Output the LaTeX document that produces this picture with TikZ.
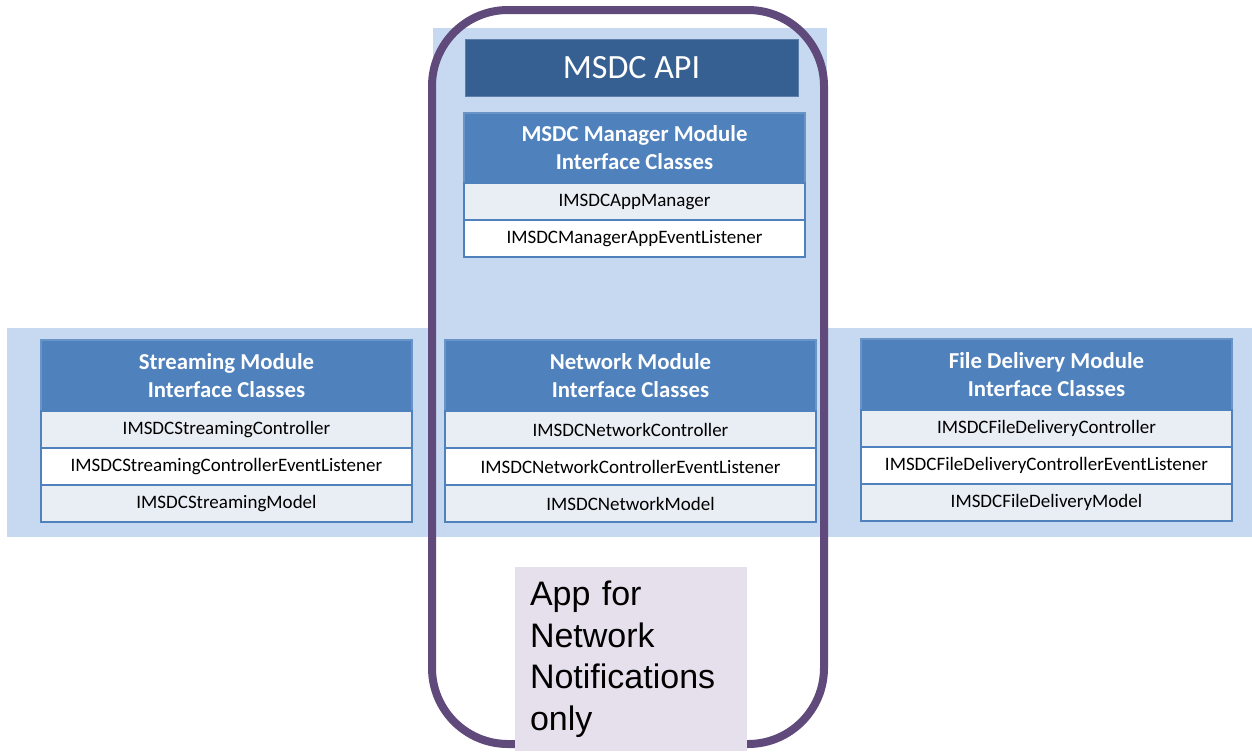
\documentclass[tikz,border=0pt]{standalone}
\usepackage{fontspec}
\setmainfont{Carlito}
\newfontfamily\appfont{Liberation Sans}
\usetikzlibrary{positioning}
\definecolor{bandblue}{HTML}{C6D9F1}
\definecolor{apiblue}{HTML}{366092}
\definecolor{headblue}{HTML}{4F81BD}
\definecolor{itemgray}{HTML}{E9EDF4}
\definecolor{framepurple}{HTML}{604A7B}
\definecolor{applilac}{HTML}{E6E0EC}

\tikzset{
  modhead/.style={draw=headblue!85!white, fill=headblue, text=white, align=center,
    font=\fontsize{11.4}{14}\selectfont\bfseries, minimum width=185.5pt,
    minimum height=35.5pt, inner sep=0pt, outer sep=0pt, line width=0.8pt, anchor=north west},
  moditem/.style={draw=headblue, fill=itemgray, font=\fontsize{9.5}{11}\selectfont,
    minimum width=185.5pt, minimum height=18.5pt, inner sep=0pt, outer sep=0pt, line width=0.8pt},
  moditemalt/.style={moditem, fill=white},
}

\begin{document}
\begin{tikzpicture}[x=0.5pt, y=-0.5pt]
        \useasboundingbox (0,0) rectangle (1252,751);
        % Light blue band behind the modules
        \fill[bandblue] (7,328) rectangle (1252,537);
        \fill[bandblue] (433,28) rectangle (827,330);
        % Purple frame round the app column
        \draw[framepurple, line width=4pt, rounded corners=38pt] (432,10) rectangle (824,744);
        % API title
        \node[fill=apiblue, draw=apiblue!80!white, line width=0.5pt, text=white, anchor=north west,
          minimum width=166.5pt, minimum height=28.5pt, inner sep=0pt, outer sep=0pt,
          font=\fontsize{17}{20}\selectfont]
          (API) at (465,39) {MSDC API};
        % Manager module
        \node[modhead, minimum width=170.5pt, minimum height=35pt]
          (MGRH) at (464,113) {MSDC Manager Module\\Interface Classes};
        \node[moditem, minimum width=170.5pt, below=0pt of MGRH] (MGR1) {IMSDCAppManager};
        \node[moditemalt, minimum width=170.5pt, below=0pt of MGR1] (MGR2) {IMSDCManagerAppEventListener};
        % Streaming module
        \node[modhead] (STRH) at (41,340) {Streaming Module\\Interface Classes};
        \node[moditem, below=0pt of STRH] (STR1) {IMSDCStreamingController};
        \node[moditemalt, below=0pt of STR1] (STR2) {IMSDCStreamingControllerEventListener};
        \node[moditem, below=0pt of STR2] (STR3) {IMSDCStreamingModel};
        % Network module
        \node[modhead] (NETH) at (445,340) {Network Module\\Interface Classes};
        \node[moditem, below=0pt of NETH] (NET1) {IMSDCNetworkController};
        \node[moditemalt, below=0pt of NET1] (NET2) {IMSDCNetworkControllerEventListener};
        \node[moditem, below=0pt of NET2] (NET3) {IMSDCNetworkModel};
        % File delivery module
        \node[modhead] (FDH) at (861,339) {File Delivery Module\\Interface Classes};
        \node[moditem, below=0pt of FDH] (FD1) {IMSDCFileDeliveryController};
        \node[moditemalt, below=0pt of FD1] (FD2) {IMSDCFileDeliveryControllerEventListener};
        \node[moditem, below=0pt of FD2] (FD3) {IMSDCFileDeliveryModel};
        % App box over the frame
        \node[fill=applilac, anchor=north west, minimum width=116pt, minimum height=92pt,
          text width=101pt, align=left, inner xsep=7.5pt, inner ysep=0pt, outer sep=0pt,
          font=\appfont\fontsize{17}{20.75}\selectfont]
          (APP) at (515,567) {App for\\Network\\Notifications\\only};
      \end{tikzpicture}
\end{document}
